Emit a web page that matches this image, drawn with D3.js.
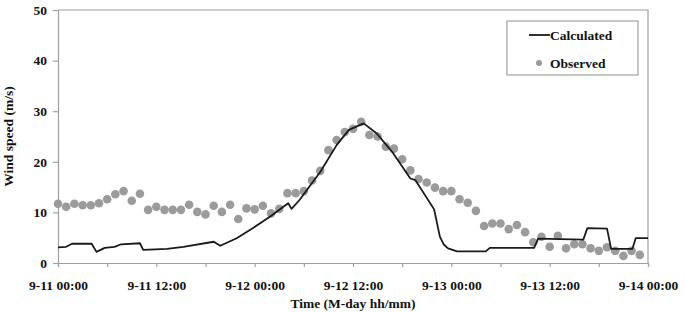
<!DOCTYPE html>
<html>
<head>
<meta charset="utf-8">
<script src="https://cdn.jsdelivr.net/npm/d3@7"></script>
<style>
  body { margin: 0; background: #fff; }
  svg { display: block; font-family: "Liberation Serif", "Times New Roman", serif; }
</style>
</head>
<body>
<svg id="chart"></svg>
<script>
// series start 9-11 00:00, observed values are hourly
var startTime = Date.UTC(2000, 8, 11, 0, 0)
var endTime = Date.UTC(2000, 8, 14, 0, 0)

var observed = [
  11.7, 11.1, 11.7, 11.4, 11.4, 11.8, 12.6, 13.6, 14.2, 12.3, 13.7, 10.5,
  11.1, 10.5, 10.5, 10.5, 11.5, 10.1, 9.6, 11.3, 10.1, 11.5, 8.7, 10.8,
  10.6, 11.3, 9.8, 10.7, 13.8, 13.8, 14.2, 16.3, 18.2, 22.3, 24.3, 25.9,
  26.5, 27.9, 25.3, 25.0, 23.0, 22.6, 20.5, 18.3, 16.6, 15.9, 14.9, 14.2,
  14.2, 12.6, 11.9, 10.3, 7.3, 7.8, 7.8, 6.7, 7.5, 6.1, 4.1, 5.2,
  3.2, 5.4, 2.9, 3.7, 3.7, 2.9, 2.4, 3.1, 2.4, 1.4, 2.4, 1.6
]

// calculated series, hours since start / wind speed
var calcHours = [
  0, 1, 1.7, 4.1, 4.7, 5.2, 5.7, 6.9, 7.7, 10, 10.4, 13.3, 15.3, 19, 19.8,
  21.8, 23.8, 25.9, 27.5, 28.1, 28.5, 29.5, 31, 32, 34, 35.5, 37.3, 38.9,
  40.9, 43, 43.6, 45.9, 46.6, 47.1, 47.6, 48.7, 52.2, 52.7, 58.1, 58.6,
  64.1, 64.6, 67, 67.5, 70.1, 70.5, 72
]
var calcValues = [
  3.1, 3.2, 3.8, 3.8, 2.2, 2.6, 3.0, 3.2, 3.7, 3.9, 2.6, 2.8, 3.2, 4.2, 3.4,
  4.9, 6.9, 9.2, 11.1, 11.8, 10.7, 12.5, 15.8, 18.0, 23.3, 26.3, 27.6, 25.6,
  21.7, 16.7, 16.4, 10.6, 5.2, 3.6, 2.9, 2.3, 2.3, 3.0, 3.0, 4.8,
  4.6, 6.9, 6.8, 2.8, 2.8, 4.9, 4.9
]

var yTicks = [0, 10, 20, 30, 40, 50]
var seriesNames = ['Calculated', 'Observed']

var hour = 3600 * 1000
var obsData = observed.map(function (v, i) { return { t: new Date(startTime + i * hour), v: v } })
var calcData = calcHours.map(function (h, i) { return { t: new Date(startTime + h * hour), v: calcValues[i] } })

var width = 685
var height = 312
var margin = { top: 10, right: 37, bottom: 49, left: 58 }
var innerW = width - margin.left - margin.right
var innerH = height - margin.top - margin.bottom

var svg = d3.select('#chart').attr('width', width).attr('height', height)
var g = svg.append('g').attr('transform', 'translate(' + margin.left + ',' + margin.top + ')')

var x = d3.scaleUtc().domain([new Date(startTime), new Date(endTime)]).range([0, innerW])
var y = d3.scaleLinear().domain([0, 50]).range([innerH, 0])

// plot frame (top and right)
g.append('path')
  .attr('d', 'M0,0H' + innerW + 'V' + innerH)
  .attr('fill', 'none')
  .attr('stroke', '#a0a0a0')
  .attr('stroke-width', 1.2)

var fmt = d3.utcFormat('%-m-%d %H:%M')
var xAxis = d3.axisBottom(x)
  .ticks(d3.utcHour.every(6))
  .tickSize(4)
  .tickPadding(13)
  .tickFormat(function (d) { return d.getUTCHours() % 12 === 0 ? fmt(d) : '' })
var yAxis = d3.axisLeft(y).tickValues(yTicks).tickSize(5).tickPadding(6)

var gx = g.append('g').attr('transform', 'translate(0,' + innerH + ')').call(xAxis)
var gy = g.append('g').call(yAxis)
;[gx, gy].forEach(function (a) {
  a.select('.domain').attr('stroke', '#a0a0a0').attr('stroke-width', 1.2)
  a.selectAll('.tick line').attr('stroke', '#a0a0a0').attr('stroke-width', 1.2)
  a.selectAll('.tick text')
    .attr('fill', '#111')
    .style('font-family', '"Liberation Serif", serif')
    .style('font-size', '13.5px')
    .style('font-weight', 'bold')
})

// axis titles
svg.append('text')
  .attr('transform', 'translate(13,' + (margin.top + innerH / 2) + ') rotate(-90)')
  .attr('text-anchor', 'middle')
  .attr('font-size', 13.5)
  .attr('font-weight', 'bold')
  .attr('fill', '#111')
  .text('Wind speed (m/s)')

svg.append('text')
  .attr('x', margin.left + innerW / 2)
  .attr('y', 308)
  .attr('text-anchor', 'middle')
  .attr('font-size', 13.5)
  .attr('font-weight', 'bold')
  .attr('fill', '#111')
  .text('Time (M-day hh/mm)')

// observed points
g.append('g').selectAll('circle')
  .data(obsData)
  .enter().append('circle')
  .attr('cx', function (d) { return x(d.t) })
  .attr('cy', function (d) { return y(d.v) })
  .attr('r', 4.3)
  .attr('fill', '#9b9b9b')

// calculated line
var line = d3.line()
  .x(function (d) { return x(d.t) })
  .y(function (d) { return y(d.v) })
g.append('path')
  .datum(calcData)
  .attr('d', line)
  .attr('fill', 'none')
  .attr('stroke', '#1a1a1a')
  .attr('stroke-width', 1.8)
  .attr('stroke-linejoin', 'round')

// legend
var leg = svg.append('g').attr('transform', 'translate(507,21)')
leg.append('rect')
  .attr('width', 131).attr('height', 54)
  .attr('fill', '#fff')
  .attr('stroke', '#a0a0a0')
  .attr('stroke-width', 1.2)
leg.append('line')
  .attr('x1', 22).attr('x2', 43).attr('y1', 14).attr('y2', 14)
  .attr('stroke', '#1a1a1a').attr('stroke-width', 1.8)
leg.append('circle')
  .attr('cx', 32).attr('cy', 42).attr('r', 3)
  .attr('fill', '#9b9b9b')
seriesNames.forEach(function (name, i) {
  leg.append('text')
    .attr('x', 43)
    .attr('y', 14 + i * 28)
    .attr('dy', '0.35em')
    .attr('font-size', 13.5)
    .attr('font-weight', 'bold')
    .attr('fill', '#111')
    .text(name)
})
</script>
</body>
</html>
